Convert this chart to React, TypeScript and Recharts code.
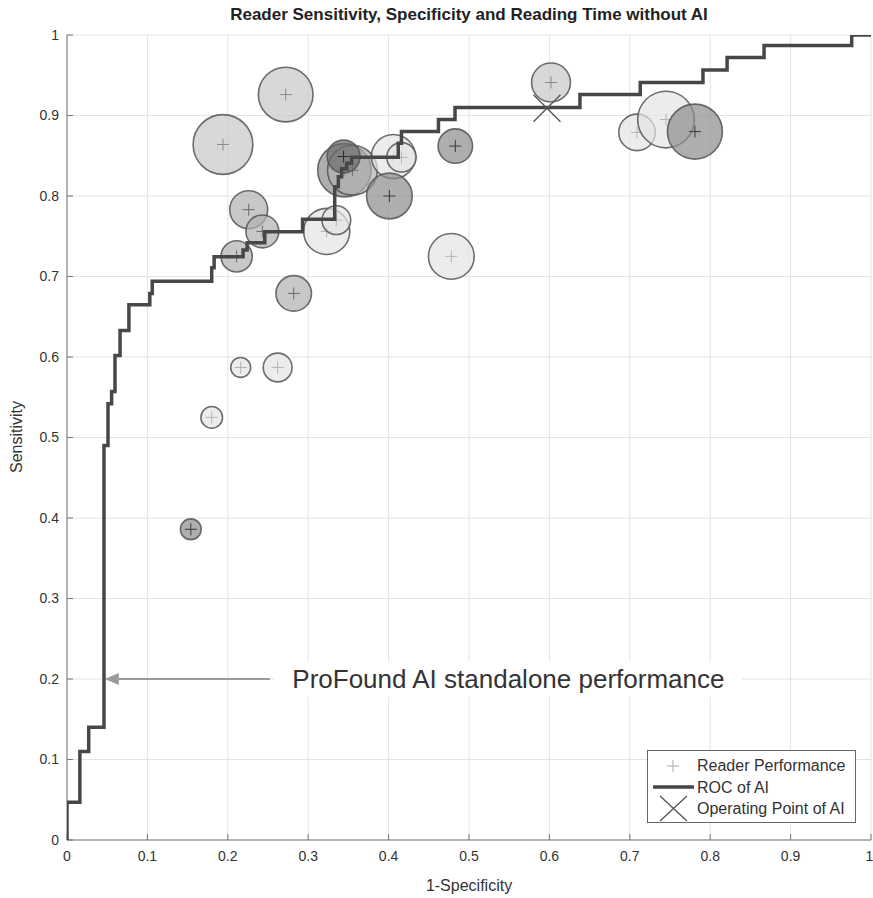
import React from "react";
import {
  ComposedChart,
  Line,
  Scatter,
  XAxis,
  YAxis,
  ZAxis,
  CartesianGrid,
  ReferenceLine,
  ReferenceArea,
} from "recharts";

// axis ticks
const xTicks = [0, 0.1, 0.2, 0.3, 0.4, 0.5, 0.6, 0.7, 0.8, 0.9, 1];
const yTicks = [0, 0.1, 0.2, 0.3, 0.4, 0.5, 0.6, 0.7, 0.8, 0.9, 1];

// ROC of AI (corner points, drawn as stepAfter)
const rocFpr = [
  0, 0, 0.016, 0.027, 0.046, 0.051, 0.0555, 0.0597, 0.066, 0.077, 0.103, 0.106,
  0.18, 0.183, 0.219, 0.224, 0.246, 0.293, 0.333, 0.3375, 0.3416, 0.348, 0.354,
  0.412, 0.416, 0.462, 0.4826, 0.638, 0.713, 0.791, 0.821, 0.867, 0.976, 1,
];
const rocTpr = [
  0, 0.047, 0.11, 0.14, 0.49, 0.542, 0.557, 0.602, 0.633, 0.665, 0.679, 0.694,
  0.711, 0.7246, 0.733, 0.742, 0.7556, 0.771, 0.8116, 0.824, 0.834, 0.8406, 0.848,
  0.8654, 0.88, 0.895, 0.91, 0.926, 0.941, 0.9565, 0.972, 0.987, 1, 1,
];

// readers: 1-specificity, sensitivity, reading time (bubble area), shade level
const readerFpr = [
  0.194, 0.272, 0.226, 0.243, 0.211, 0.282, 0.216, 0.262, 0.18, 0.154, 0.323, 0.335,
  0.345, 0.355, 0.344, 0.406, 0.416, 0.401, 0.483, 0.478, 0.602, 0.709, 0.745, 0.781,
];
const readerSens = [
  0.864, 0.926, 0.783, 0.756, 0.725, 0.679, 0.587, 0.587, 0.525, 0.386, 0.756, 0.77,
  0.832, 0.832, 0.849, 0.849, 0.848, 0.8, 0.862, 0.725, 0.941, 0.879, 0.895, 0.88,
];
const readerTime = [
  99, 83, 40, 30, 27, 35, 11, 23, 13, 12, 59, 23, 79, 69, 30, 54, 24, 58, 33, 58, 42, 37, 89, 84,
];
const readerShade = [1, 1, 2, 2, 2, 2, 0, 0, 0, 3, 0, 0, 3, 2, 4, 0, 0, 3, 3, 0, 1, 0, 0, 3];

// operating point of AI
const opFpr = [0.597];
const opSens = [0.909];

const rocData = rocFpr.map((x, i) => ({ x, y: rocTpr[i] }));
const readerData = readerFpr.map((x, i) => ({
  x,
  y: readerSens[i],
  z: readerTime[i],
  shade: readerShade[i],
}));
const opData = opFpr.map((x, i) => ({ x, y: opSens[i] }));

const FONT = "'Liberation Sans', Arial, Helvetica, sans-serif";
const shadeFill = ["#e4e4e4", "#c7c7c7", "#b0b0b0", "#8c8c8c", "#6c6c6c"];
const shadePlus = ["#b4b4b4", "#8a8a8a", "#6a6a6a", "#3a3a3a", "#2a2a2a"];

function Bubble(props: any) {
  const { cx, cy, width, payload } = props;
  if (cx == null || cy == null) return null;
  const r = width / 2;
  const s = payload.shade;
  return (
    <g>
      <circle
        cx={cx}
        cy={cy}
        r={r}
        fill={shadeFill[s]}
        fillOpacity={0.7}
        stroke="#555"
        strokeOpacity={0.85}
        strokeWidth={1.6}
      />
      <path
        d={`M${cx - 6},${cy}H${cx + 6}M${cx},${cy - 6}V${cy + 6}`}
        stroke={shadePlus[s]}
        strokeWidth={1}
      />
    </g>
  );
}

function Cross(props: any) {
  const { cx, cy } = props;
  if (cx == null || cy == null) return null;
  const h = 13.5;
  return (
    <path
      d={`M${cx - h},${cy - h}L${cx + h},${cy + h}M${cx - h},${cy + h}L${cx + h},${cy - h}`}
      stroke="#555"
      strokeWidth={1.3}
      fill="none"
    />
  );
}

function Arrow(props: any) {
  const { x1, y1, x2, y2 } = props;
  const head = 14;
  return (
    <g>
      <line x1={x1} y1={y1} x2={x2 + head - 2} y2={y2} stroke="#9a9a9a" strokeWidth={2} />
      <polygon
        points={`${x2},${y2} ${x2 + head},${y2 - 6} ${x2 + head},${y2 + 6}`}
        fill="#9a9a9a"
      />
    </g>
  );
}

const fmt = (v: number) => String(v);

export default function App() {
  return (
    <div style={{ position: "absolute", left: 0, top: 0, width: 873, height: 898, background: "#fff" }}>
      <ComposedChart
        width={873}
        height={898}
        margin={{ top: 35, right: 2, bottom: 18, left: 7 }}
      >
        <CartesianGrid stroke="#e4e4e4" strokeWidth={1} />
        <XAxis
          type="number"
          dataKey="x"
          domain={[0, 1]}
          ticks={xTicks}
          tickFormatter={fmt}
          height={40}
          stroke="#777"
          tickSize={-6}
          tickMargin={17}
          tick={{ fill: "#333", fontSize: 14, fontFamily: FONT }}
          allowDataOverflow
        />
        <YAxis
          type="number"
          dataKey="y"
          domain={[0, 1]}
          ticks={yTicks}
          tickFormatter={fmt}
          width={60}
          stroke="#777"
          tickSize={-6}
          tickMargin={14}
          tick={{ fill: "#333", fontSize: 14, fontFamily: FONT }}
          allowDataOverflow
        />
        <ZAxis type="number" dataKey="z" domain={[0, 100]} range={[0, Math.PI * 900]} />
        <ReferenceArea
          x1={0.258}
          x2={0.84}
          y1={0.178}
          y2={0.222}
          fill="#fff"
          fillOpacity={1}
          stroke="none"
          label={{
            value: "ProFound AI standalone performance",
            position: "center",
            fontSize: 26,
            fill: "#333",
            fontFamily: FONT,
          }}
        />
        <ReferenceLine
          segment={[
            { x: 0.2525, y: 0.2 },
            { x: 0.047, y: 0.2 },
          ]}
          stroke="#9a9a9a"
          shape={Arrow}
        />
        <Scatter
          name="Reader Performance"
          data={readerData}
          dataKey="y"
          shape={Bubble}
          zIndex={500}
          isAnimationActive={false}
        />
        <Line
          name="ROC of AI"
          data={rocData}
          dataKey="y"
          type="stepAfter"
          stroke="#474747"
          strokeWidth={3.5}
          dot={false}
          activeDot={false}
          zIndex={700}
          isAnimationActive={false}
        />
        <Scatter
          name="Operating Point of AI"
          data={opData}
          dataKey="y"
          shape={Cross}
          zIndex={800}
          isAnimationActive={false}
        />
      </ComposedChart>

      <svg
        width={873}
        height={898}
        style={{ position: "absolute", left: 0, top: 0, pointerEvents: "none" }}
        fontFamily={FONT}
      >
        <text x={469} y={20} textAnchor="middle" fontSize={17} fontWeight="bold" fill="#222">
          Reader Sensitivity, Specificity and Reading Time without AI
        </text>
        <text
          x={22}
          y={437}
          textAnchor="middle"
          fontSize={16}
          fill="#333"
          transform="rotate(-90 22 437)"
        >
          Sensitivity
        </text>
        <text x={469} y={891} textAnchor="middle" fontSize={16} fill="#333">
          1-Specificity
        </text>

        {/* Legend */}
        <rect x={647.5} y={750.5} width={208} height={72} fill="#fff" stroke="#666" strokeWidth={1} />
        <path d="M667,766H679M673,760V772" stroke="#aaa" strokeWidth={1} />
        <text x={697} y={771} fontSize={16} fill="#333">Reader Performance</text>
        <line x1={653} y1={787} x2={694} y2={787} stroke="#474747" strokeWidth={3.5} />
        <text x={697} y={792.5} fontSize={16} fill="#333">ROC of AI</text>
        <path d="M660,796L687,821M660,821L687,796" stroke="#555" strokeWidth={1.3} />
        <text x={697} y={814} fontSize={16} fill="#333">Operating Point of AI</text>
      </svg>
    </div>
  );
}
